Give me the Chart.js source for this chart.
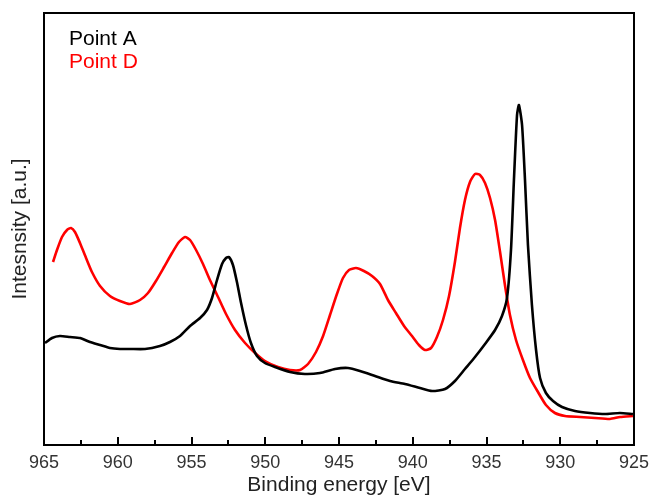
<!DOCTYPE html>
<html>
<head>
<meta charset="utf-8">
<script src="https://cdn.jsdelivr.net/npm/chart.js@4.4.1/dist/chart.umd.min.js"></script>
<style>
  html, body { margin: 0; padding: 0; background: #fff; }
  #wrap { width: 649px; height: 496px; }
</style>
</head>
<body>
<div id="wrap"><canvas id="chart" width="649" height="496"></canvas></div>
<script>
// binding energy (eV) and intensity (a.u.)
const energyA = [964.93, 964.46, 963.92, 963.24, 962.56, 961.88, 961.20, 960.53, 959.85, 959.17,
  958.15, 957.14, 956.46, 955.78, 955.10, 954.42, 953.95, 953.61, 953.27, 952.93,
  952.66, 952.46, 952.19, 951.92, 951.64, 951.31, 950.97, 950.56, 950.02, 949.34,
  948.32, 947.31, 946.29, 945.27, 944.39, 943.58, 942.56, 941.54, 940.53, 939.51,
  938.69, 937.81, 937.14, 936.46, 935.78, 935.10, 934.42, 933.95, 933.61, 933.34,
  933.14, 932.93, 932.80, 932.59, 932.39, 932.19, 931.92, 931.64, 931.37, 930.97,
  930.49, 929.88, 929.00, 927.98, 926.97, 925.95, 925.07];
const intensityA = [102, 107, 109, 108, 107, 103, 100, 97, 96, 96,
  96, 99, 103, 109, 119, 127, 135, 147, 165, 181,
  187, 188, 180, 163, 142, 120, 102, 89, 82, 78,
  73, 71, 72, 76, 77, 74, 69, 64, 61, 57,
  54, 56, 64, 76, 88, 101, 115, 129, 147, 195,
  265, 330, 340, 320, 265, 200, 140, 95, 67, 52,
  44, 38, 34, 32, 31, 32, 31];

const energyD = [964.39, 964.12, 963.78, 963.44, 963.17, 962.90, 962.56, 962.15, 961.75, 961.20,
  960.53, 959.85, 959.17, 958.49, 957.95, 957.41, 956.86, 956.32, 955.85, 955.44,
  955.10, 954.69, 954.22, 953.75, 953.20, 952.66, 952.05, 951.37, 950.69, 950.02,
  949.14, 948.32, 947.64, 947.10, 946.56, 946.08, 945.61, 945.14, 944.73, 944.32,
  943.85, 943.31, 942.76, 942.22, 941.68, 941.14, 940.59, 940.05, 939.58, 939.17,
  938.76, 938.36, 937.95, 937.54, 937.14, 936.80, 936.46, 936.12, 935.78, 935.44,
  935.10, 934.76, 934.42, 934.08, 933.75, 933.41, 933.00, 932.53, 932.05, 931.51,
  930.97, 930.36, 929.68, 928.66, 927.64, 926.63, 925.95, 925.07];
const intensityD = [183, 195, 208, 215, 217, 213, 202, 187, 173, 159,
  149, 144, 141, 145, 152, 164, 178, 192, 203, 208,
  205, 195, 181, 165, 148, 131, 115, 102, 92, 84,
  78, 75, 75, 81, 93, 109, 130, 151, 167, 175,
  177, 174, 169, 161, 145, 132, 119, 109, 100, 95,
  97, 108, 125, 149, 183, 217, 245, 263, 271, 270,
  262, 247, 225, 193, 160, 130, 105, 85, 67, 53,
  40, 32, 29, 28, 27, 26, 28, 29];

const seriesNames = ["Point A", "Point D"];
const seriesColors = ["#000000", "#ff0000"];
const xTicks = [965, 960, 955, 950, 945, 940, 935, 930, 925];

const toPoints = (xs, ys) => xs.map((x, i) => ({ x: x, y: ys[i] }));

// frame round the plot plus inward ticks on the bottom axis
const framePlugin = {
  id: "frame",
  afterDraw(chart) {
    const { ctx, chartArea: a } = chart;
    const xs = chart.scales.x;
    ctx.save();
    ctx.strokeStyle = "#000";
    ctx.lineWidth = 2;
    ctx.strokeRect(a.left, a.top, a.right - a.left, a.bottom - a.top);
    ctx.beginPath();
    for (let v = 925; v <= 965; v += 2.5) {
      const px = Math.round(xs.getPixelForValue(v));
      const len = v % 5 === 0 ? 8 : 5;
      ctx.moveTo(px, a.bottom);
      ctx.lineTo(px, a.bottom - len);
    }
    ctx.stroke();
    ctx.restore();
  }
};

// text legend in the top left corner
const labelPlugin = {
  id: "labels",
  afterDraw(chart) {
    const { ctx, chartArea: a } = chart;
    ctx.save();
    ctx.font = "21px 'Liberation Sans', Arial, sans-serif";
    ctx.textBaseline = "alphabetic";
    seriesNames.forEach((name, i) => {
      ctx.fillStyle = seriesColors[i];
      ctx.fillText(name, a.left + 25, a.top + 32 + i * 23);
    });
    ctx.restore();
  }
};

new Chart(document.getElementById("chart"), {
  type: "line",
  data: {
    datasets: [
      {
        label: seriesNames[0],
        data: toPoints(energyA, intensityA),
        borderColor: seriesColors[0],
        borderWidth: 2.6,
        pointRadius: 0,
        tension: 0.2
      },
      {
        label: seriesNames[1],
        data: toPoints(energyD, intensityD),
        borderColor: seriesColors[1],
        borderWidth: 2.6,
        pointRadius: 0,
        tension: 0.2
      }
    ]
  },
  options: {
    responsive: false,
    animation: false,
    layout: { padding: { left: 0, right: 0, top: 13, bottom: 0 } },
    plugins: {
      legend: { display: false },
      tooltip: { enabled: false }
    },
    scales: {
      x: {
        type: "linear",
        reverse: true,
        min: 925,
        max: 965,
        afterBuildTicks: (scale) => { scale.ticks = xTicks.map(v => ({ value: v })); },
        afterFit: (scale) => {
          scale.height = 51;
          scale.paddingRight = 15;
          scale.paddingLeft = 0;
        },
        grid: { display: false, drawTicks: false },
        border: { display: false },
        ticks: {
          padding: 7,
          color: "#333",
          font: { family: "'Liberation Sans', Arial, sans-serif", size: 18 },
          maxRotation: 0
        },
        title: {
          display: true,
          text: "Binding energy [eV]",
          color: "#222",
          font: { family: "'Liberation Sans', Arial, sans-serif", size: 21, lineHeight: 1 },
          padding: { top: 0, bottom: 0 }
        }
      },
      y: {
        min: 0,
        max: 432,
        afterFit: (scale) => { scale.width = 44; },
        grid: { display: false, drawTicks: false },
        border: { display: false },
        ticks: { display: false },
        title: {
          display: true,
          text: "Intesnsity [a.u.]",
          color: "#222",
          font: { family: "'Liberation Sans', Arial, sans-serif", size: 21 },
          padding: { top: 8, bottom: 0 }
        }
      }
    }
  },
  plugins: [framePlugin, labelPlugin]
});
</script>
</body>
</html>
